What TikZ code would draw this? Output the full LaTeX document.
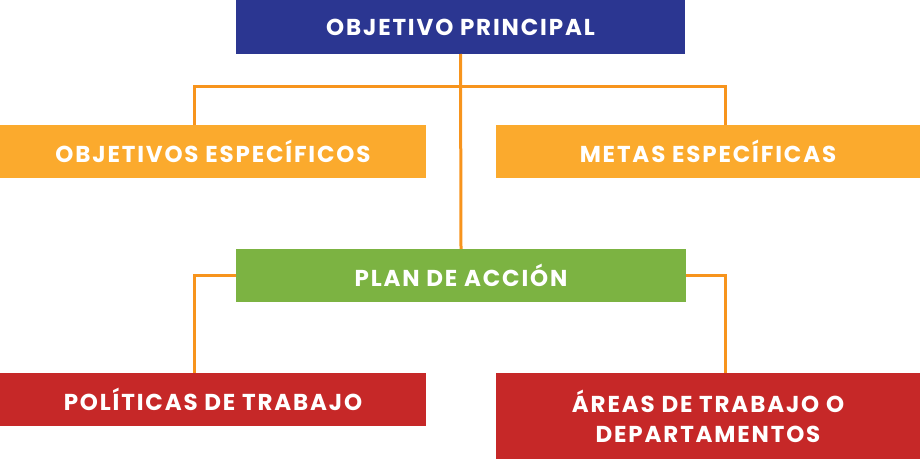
\documentclass[tikz,border=0pt]{standalone}
\usepackage{fontspec}
\setmainfont{Poppins}[LetterSpace=8]
\definecolor{azul}{RGB}{43,54,145}
\definecolor{naranja}{RGB}{251,170,45}
\definecolor{linea}{RGB}{247,148,29}
\definecolor{verde}{RGB}{124,179,66}
\definecolor{rojo}{RGB}{198,40,40}

\begin{document}
\begin{tikzpicture}[x=1pt,y=-1pt,
  caja/.style={anchor=north west, inner sep=0pt, outer sep=0pt, text=white,
    font=\fontsize{23}{30}\selectfont\bfseries, align=center},
  link/.style={linea, line width=3pt}]
\useasboundingbox (0,0) rectangle (920,460);
% cajas
\node[caja, fill=azul, minimum width=449pt, minimum height=54pt] (top) at (236,0) {OBJETIVO PRINCIPAL};
\node[caja, fill=naranja, minimum width=426pt, minimum height=53pt] (objesp) at (0,125) {OBJETIVOS ESPECÍFICOS};
\node[caja, fill=naranja, minimum width=424pt, minimum height=53pt] (metas) at (496,125) {METAS ESPECÍFICAS};
\node[caja, fill=verde, minimum width=450pt, minimum height=53pt] (plan) at (236,249) {PLAN DE ACCIÓN};
\node[caja, fill=rojo, minimum width=426pt, minimum height=53pt] (pol) at (0,373) {POLÍTICAS DE TRABAJO};
\node[caja, fill=rojo, minimum width=424pt, minimum height=86pt] (areas) at (496,373) {ÁREAS DE TRABAJO O\\DEPARTAMENTOS};
% lineas
\coordinate (lft) at (194,86);
\coordinate (rgt) at (725,86);
\draw[link] (top.south) -- (plan.north);
\draw[link] (lft |- objesp.north) |- (rgt) -- (rgt |- metas.north);
\draw[link] (plan.west) -| (lft |- pol.north);
\draw[link] (plan.east) -| (rgt |- areas.north);
\end{tikzpicture}
\end{document}
